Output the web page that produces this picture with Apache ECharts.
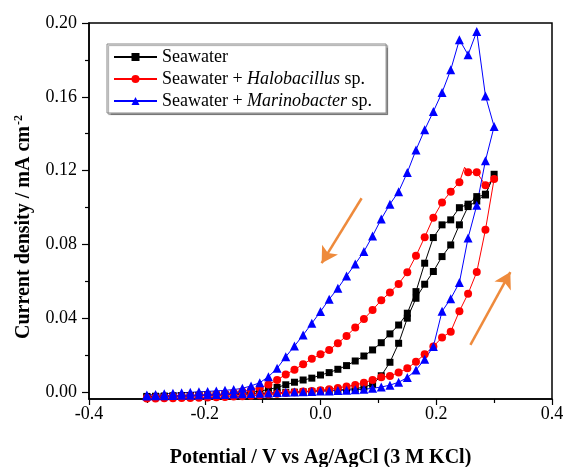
<!DOCTYPE html>
<html>
<head>
<meta charset="utf-8">
<script src="https://cdn.jsdelivr.net/npm/echarts@6/dist/echarts.min.js"></script>
<style>
  html, body { margin: 0; padding: 0; background: #fff; }
  #chart { width: 566px; height: 467px; }
</style>
</head>
<body>
<div id="chart"></div>
<script>
// potential of the scan points, V vs Ag/AgCl
const potential = [-0.3, -0.285, -0.27, -0.255, -0.24, -0.225, -0.21, -0.195, -0.18, -0.165,
  -0.15, -0.135, -0.12, -0.105, -0.09, -0.075, -0.06, -0.045, -0.03, -0.015,
  0, 0.015, 0.03, 0.045, 0.06, 0.075, 0.09, 0.105, 0.12, 0.135,
  0.15, 0.165, 0.18, 0.195, 0.21, 0.225, 0.24, 0.255, 0.27, 0.285, 0.3];

// current density (mA cm-2) at each potential, forward sweep and reverse sweep
const seawaterFwd = [-0.0026, -0.0025, -0.0024, -0.0023, -0.0022, -0.0021, -0.0020, -0.0019, -0.0018, -0.0016,
  -0.0015, -0.0013, -0.0011, -0.0009, -0.0007, -0.0005, -0.0003, -0.0001, 0.0001, 0.0003,
  0.0005, 0.0008, 0.0011, 0.0014, 0.0018, 0.0026, 0.0042, 0.0088, 0.0161, 0.0264,
  0.0400, 0.0508, 0.0584, 0.0653, 0.0734, 0.0797, 0.0906, 0.1005, 0.1035, 0.1072, 0.1180];
const seawaterRev = [-0.0024, -0.0023, -0.0022, -0.0021, -0.0020, -0.0019, -0.0018, -0.0017, -0.0016, -0.0014,
  -0.0011, -0.0007, -0.0002, 0.0005, 0.0013, 0.0025, 0.0039, 0.0053, 0.0065, 0.0075,
  0.0092, 0.0105, 0.0123, 0.0143, 0.0168, 0.0195, 0.0228, 0.0267, 0.0315, 0.0363,
  0.0427, 0.0544, 0.0698, 0.0837, 0.0906, 0.0933, 0.0999, 0.1018, 0.1059, 0.1068, 0.1180];

const halobacillusFwd = [-0.0035, -0.0035, -0.0034, -0.0034, -0.0033, -0.0032, -0.0031, -0.0030, -0.0029, -0.0027,
  -0.0025, -0.0023, -0.0020, -0.0017, -0.0014, -0.0010, -0.0006, -0.0002, 0.0002, 0.0006,
  0.0010, 0.0015, 0.0022, 0.0030, 0.0038, 0.0050, 0.0065, 0.0080, 0.0087, 0.0105,
  0.0128, 0.0164, 0.0204, 0.0246, 0.0296, 0.0327, 0.0438, 0.0533, 0.0650, 0.0879, 0.1155];
const halobacillusRev = [-0.0031, -0.0029, -0.0027, -0.0025, -0.0023, -0.0021, -0.0019, -0.0016, -0.0013, -0.0009,
  -0.0004, 0.0003, 0.0011, 0.0022, 0.0040, 0.0065, 0.0095, 0.0121, 0.0150, 0.0180,
  0.0204, 0.0228, 0.0264, 0.0304, 0.0349, 0.0396, 0.0445, 0.0497, 0.0539, 0.0586,
  0.0649, 0.0738, 0.0839, 0.0945, 0.1027, 0.1086, 0.1137, 0.1191, 0.1191, 0.1120, 0.1155];
// unmarked point on the reverse sweep (between 0.255 and 0.24 V)
const halobacillusPeak = [0.249, 0.1218];

const marinobacterFwd = [-0.0022, -0.0021, -0.0020, -0.0019, -0.0018, -0.0017, -0.0016, -0.0015, -0.0014, -0.0013,
  -0.0011, -0.0010, -0.0008, -0.0007, -0.0005, -0.0003, -0.0002, 0.0000, 0.0001, 0.0003,
  0.0005, 0.0006, 0.0008, 0.0010, 0.0012, 0.0015, 0.0020, 0.0027, 0.0037, 0.0053,
  0.0078, 0.0119, 0.0177, 0.0246, 0.0437, 0.0506, 0.0593, 0.0835, 0.1012, 0.1254, 0.1439];
const marinobacterRev = [-0.0016, -0.0013, -0.0010, -0.0007, -0.0004, -0.0002, 0.0001, 0.0003, 0.0006, 0.0009,
  0.0013, 0.0020, 0.0033, 0.0050, 0.0083, 0.0128, 0.0191, 0.0249, 0.0309, 0.0372,
  0.0436, 0.0503, 0.0562, 0.0629, 0.0694, 0.0761, 0.0846, 0.0938, 0.1018, 0.1086,
  0.1190, 0.1312, 0.1421, 0.1520, 0.1623, 0.1746, 0.1909, 0.1828, 0.1954, 0.1605, 0.1439];

const yLabels = [0, 0.04, 0.08, 0.12, 0.16, 0.2];
const yMinor = [0.02, 0.06, 0.1, 0.14, 0.18];

// scan direction arrows [from, to]
const arrowDown = [[0.071, 0.105], [0.002, 0.0698]];
const arrowUp = [[0.259, 0.0255], [0.328, 0.0650]];

// one closed CV loop: forward sweep then reverse sweep
function loop(fwd, rev, extra) {
  const pts = potential.map((p, i) => [p, fwd[i]]);
  for (let i = potential.length - 2; i >= 0; i--) {
    if (extra && potential[i + 1] > extra[0] && potential[i] < extra[0]) {
      pts.push({ value: extra, symbol: 'none' });
    }
    pts.push([potential[i], rev[i]]);
  }
  return pts;
}

const font = '"Liberation Serif", "Times New Roman", serif';
const chart = echarts.init(document.getElementById('chart'));

const lineSeries = (name, color, symbol, size, data) => ({
  name: name,
  type: 'line',
  data: data,
  symbol: symbol,
  symbolSize: size,
  showAllSymbol: true,
  color: color,
  itemStyle: { color: color },
  lineStyle: { color: color, width: 1 },
  emphasis: { disabled: true },
  animation: false
});

chart.setOption({
  animation: false,
  textStyle: { fontFamily: font },
  grid: {
    left: 89, right: 14, top: 23, bottom: 68,
    containLabel: false,
    outerBoundsMode: 'none',
    show: true, borderColor: '#000', borderWidth: 1.5, backgroundColor: '#fff'
  },
  legend: {
    orient: 'vertical',
    left: 107, top: 44,
    padding: [4, 14, 3, 6],
    itemGap: 4,
    itemWidth: 43,
    itemHeight: 10,
    backgroundColor: '#fff',
    borderColor: '#888',
    borderWidth: 1,
    shadowColor: 'rgba(0,0,0,0.35)',
    shadowOffsetX: 1.5,
    shadowOffsetY: 1.5,
    shadowBlur: 1,
    data: ['Seawater', 'Seawater + Halobacillus sp.', 'Seawater + Marinobacter sp.'],
    formatter: function (name) {
      if (name === 'Seawater') return '{n|Seawater}';
      const parts = name.split(' ');
      return '{n|Seawater + }{i|' + parts[2] + '}{n| sp.}';
    },
    textStyle: {
      fontFamily: font, fontSize: 18, color: '#000',
      rich: {
        n: { fontFamily: font, fontSize: 18, color: '#000' },
        i: { fontFamily: font, fontSize: 18, color: '#000', fontStyle: 'italic' }
      }
    }
  },
  xAxis: {
    type: 'value',
    min: -0.4, max: 0.4, interval: 0.2,
    name: 'Potential / V vs Ag/AgCl (3 M KCl)',
    nameLocation: 'middle',
    nameGap: 49,
    nameTextStyle: { fontFamily: font, fontSize: 20, fontWeight: 'bold', color: '#000' },
    axisLine: { onZero: false, lineStyle: { color: '#000', width: 1.5 } },
    axisTick: { inside: false, length: 6, lineStyle: { color: '#000', width: 1.2 } },
    minorTick: { show: true, splitNumber: 2, length: 4, lineStyle: { color: '#000', width: 1.2 } },
    axisLabel: {
      fontFamily: font, fontSize: 18, color: '#000', margin: 6,
      formatter: v => v.toFixed(1)
    },
    splitLine: { show: false },
    minorSplitLine: { show: false }
  },
  yAxis: [{
    type: 'value',
    min: -0.0038, max: 0.2,
    name: '{a|Current density / mA cm}{s|-2}',
    nameLocation: 'middle',
    nameGap: 54,
    nameTextStyle: {
      fontFamily: font, fontSize: 20, fontWeight: 'bold', color: '#000',
      padding: [0, 32, 0, 0],
      rich: {
        a: { fontFamily: font, fontSize: 20, fontWeight: 'bold', color: '#000' },
        s: { fontFamily: font, fontSize: 12, fontWeight: 'bold', color: '#000', verticalAlign: 'top', padding: [0, 0, 10, 1] }
      }
    },
    axisLine: { onZero: false, lineStyle: { color: '#000', width: 1.5 } },
    axisTick: { inside: false, length: 7, customValues: yLabels, lineStyle: { color: '#000', width: 1.2 } },
    axisLabel: {
      fontFamily: font, fontSize: 18, color: '#000', margin: 12,
      customValues: yLabels,
      formatter: v => v.toFixed(2)
    },
    splitLine: { show: false }
  }, {
    type: 'value',
    min: -0.0038, max: 0.2,
    position: 'left',
    offset: 0,
    axisLine: { show: false, onZero: false },
    axisTick: { inside: false, length: 4, customValues: yMinor, lineStyle: { color: '#000', width: 1.2 } },
    axisLabel: { show: false },
    splitLine: { show: false }
  }],
  series: [
    lineSeries('Seawater', '#000000', 'rect', 7, loop(seawaterFwd, seawaterRev)),
    lineSeries('Seawater + Halobacillus sp.', '#ff0000', 'circle', 8, loop(halobacillusFwd, halobacillusRev, halobacillusPeak)),
    lineSeries('Seawater + Marinobacter sp.', '#0000ff', 'triangle', 9, loop(marinobacterFwd, marinobacterRev)),
    {
      name: 'arrows',
      type: 'line',
      data: [],
      silent: true,
      markLine: {
        silent: true,
        animation: false,
        symbol: ['none', 'arrow'],
        symbolSize: [14, 16],
        label: { show: false },
        lineStyle: { color: '#ee8a3c', width: 2.5, type: 'solid' },
        emphasis: { disabled: true },
        data: [
          [{ coord: arrowDown[0] }, { coord: arrowDown[1] }],
          [{ coord: arrowUp[0] }, { coord: arrowUp[1] }]
        ]
      }
    }
  ]
});
</script>
</body>
</html>
